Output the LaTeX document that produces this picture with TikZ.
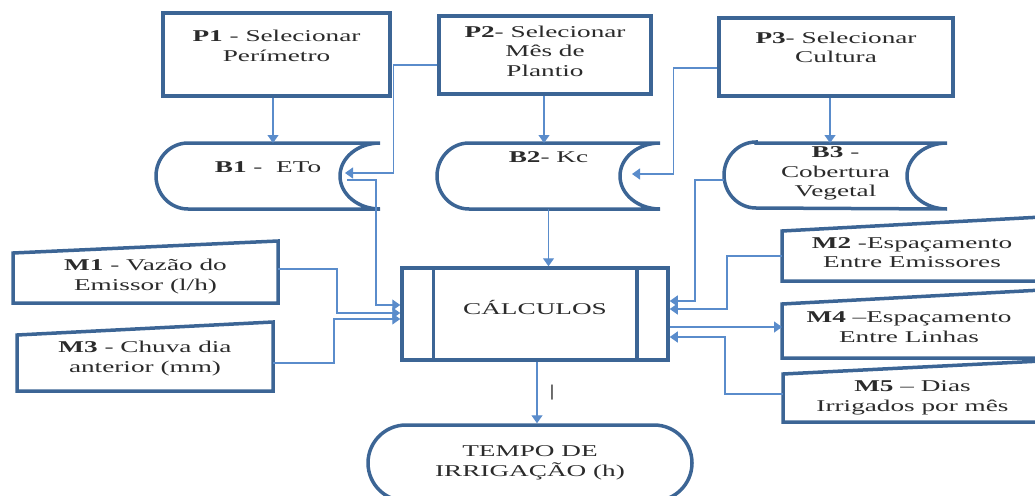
\documentclass[tikz,border=0pt]{standalone}
\usepackage{fontspec}
\setmainfont[FakeStretch=1.65]{Liberation Serif}
\usetikzlibrary{arrows.meta}
\definecolor{boxblue}{HTML}{3C6595}
\definecolor{lineblue}{HTML}{5A8CCB}
\definecolor{textgray}{HTML}{2B2B2B}

\begin{document}
\begin{tikzpicture}[x=1pt, y=-1pt, >={Triangle[width=11pt,length=8pt]},
    boxline/.style={draw=boxblue, line width=3.5pt},
    pbox/.style={boxline, fill=white, inner sep=0pt},
    bare/.style={inner sep=0pt, outer sep=0pt},
    conn/.style={draw=lineblue, line width=1.3pt},
    txt/.style={font=\fontsize{16.5}{19.5}\selectfont, text=textgray, align=center}]
  \useasboundingbox (0,0) rectangle (1035,495);

  % selecoes
  \node[pbox, minimum width=227pt, minimum height=83pt,
    label={[txt, yshift=8.5pt]center:{\textbf{P1} - Selecionar\\Perímetro}}] (P1) at (276.5,54.5) {};
  \node[pbox, minimum width=212pt, minimum height=78pt,
    label={[txt, yshift=4pt]center:{\textbf{P2}- Selecionar\\Mês de\\Plantio}}] (P2) at (545,55) {};
  \node[pbox, minimum width=234pt, minimum height=78pt,
    label={[txt, yshift=9.5pt]center:{\textbf{P3}- Selecionar\\Cultura}}] (P3) at (836,57) {};

  % bancos de dados
  \node[bare, minimum width=224pt, minimum height=66pt,
    label={[txt, yshift=9pt]center:{\textbf{B1} -\ \ ETo}}] (B1) at (268,176) {};
  \node[bare, minimum width=223pt, minimum height=66pt,
    label={[txt, yshift=19pt]center:{\textbf{B2}- Kc}}] (B2) at (548.5,176) {};
  \node[bare, minimum width=223pt, minimum height=65pt,
    label={[txt, yshift=2pt]center:{\textbf{B3} -\\Cobertura\\Vegetal}}] (B3) at (835.5,175.5) {};
  \foreach \n in {B1,B2,B3}
    \draw[boxline] ([xshift=32pt]\n.north west) -- (\n.north east)
      arc[start angle=90, end angle=270, x radius=40pt, y radius=33pt]
      -- ([xshift=32pt]\n.south west)
      arc[start angle=270, end angle=90, x radius=32pt, y radius=33pt] -- cycle;

  % entradas manuais
  \node[bare, minimum width=265pt, minimum height=50pt,
    label={[txt, yshift=1.5pt]center:{\textbf{M1} - Vazão do\\Emissor (l/h)}}] (M1) at (145.5,278) {};
  \node[bare, minimum width=256pt, minimum height=56pt,
    label={[txt, yshift=4.5pt]center:{\textbf{M3} - Chuva dia\\anterior (mm)}}] (M3) at (145,363) {};
  \node[bare, minimum width=260pt, minimum height=50pt,
    label={[txt, yshift=3.5pt]center:{\textbf{M2} -Espaçamento\\Entre Emissores}}] (M2) at (912,256) {};
  \node[bare, minimum width=260pt, minimum height=54pt,
    label={[txt, yshift=4pt, xshift=-3pt]center:{\textbf{M4} –Espaçamento\\Entre Linhas}}] (M4) at (912,331) {};
  \node[bare, minimum width=259pt, minimum height=48pt,
    label={[txt]center:{\textbf{M5} – Dias\\Irrigados por mês}}] (M5) at (912.5,398) {};
  \foreach \n/\r in {M1/12,M3/13,M2/14,M4/14,M5/13}
    \draw[boxline] (\n.south west) -- (\n.north west)
      -- ([yshift=\r pt]\n.north east) -- (\n.south east) -- cycle;

  % processamento e saida
  \node[pbox, minimum width=266pt, minimum height=92pt,
    label={[txt, yshift=7pt]center:{CÁLCULOS}}] (CALC) at (535,314) {};
  \draw[boxline] ([xshift=33pt]CALC.north west) -- ([xshift=33pt]CALC.south west);
  \draw[boxline] ([xshift=-33pt]CALC.north east) -- ([xshift=-33pt]CALC.south east);
  \node[pbox, rounded corners=38pt, minimum width=324pt, minimum height=76pt,
    label={[txt]center:{TEMPO DE\\IRRIGAÇÃO (h)}}] (TEMPO) at (530,463) {};
  \node[txt] (cursor) at (552,393) {|};

  % ligacoes
  \draw[conn,->] ([xshift=-3.5pt]P1.south) -- ([xshift=-3.5pt]P1.south |- B1.north);
  \draw[conn,->] ([yshift=-10pt]P2.west) -- ++(-44,0) |- ([xshift=-35pt,yshift=3pt]B1.east);
  \draw[conn,->] ([xshift=-33pt,yshift=-4pt]B1.east) -- ++(29,0) |- ([yshift=9pt]CALC.west);
  \draw[conn,->] ([xshift=-1pt]P2.south) -- ([xshift=-1pt]P2.south |- B2.north);
  \draw[conn,->] ([yshift=-11pt]P3.west) -- ++(-44,0) |- ([xshift=-28pt,yshift=2pt]B2.east);
  \draw[conn,->] ([xshift=-6pt]P3.south) -- ([xshift=-6pt]P3.south |- B3.north);
  \draw[conn,->] (B2.south) -- (B2.south |- CALC.north);
  \draw[conn,->] ([yshift=-4.5pt]B3.west) -- ++(-29,0) |- ([yshift=13pt]CALC.east);
  \draw[conn,->] ([yshift=9pt]M1.east) -- ++(59,0) |- ([yshift=1pt]CALC.west);
  \draw[conn,->] (M3.east) -- ++(61,0) |- ([yshift=-5pt]CALC.west);
  \draw[conn,->] (M2.west) -- ++(-55,0) |- ([yshift=5pt]CALC.east);
  \draw[conn,->] ([yshift=-13pt]CALC.east) -- ([yshift=-13pt]CALC.east -| M4.west);
  \draw[conn,->] ([yshift=4pt]M5.west) -- ++(-58,0) |- ([yshift=-23pt]CALC.east);
  \draw[conn,->] ([xshift=2pt]CALC.south) -- ([xshift=2pt]CALC.south |- TEMPO.north);
\end{tikzpicture}
\end{document}
